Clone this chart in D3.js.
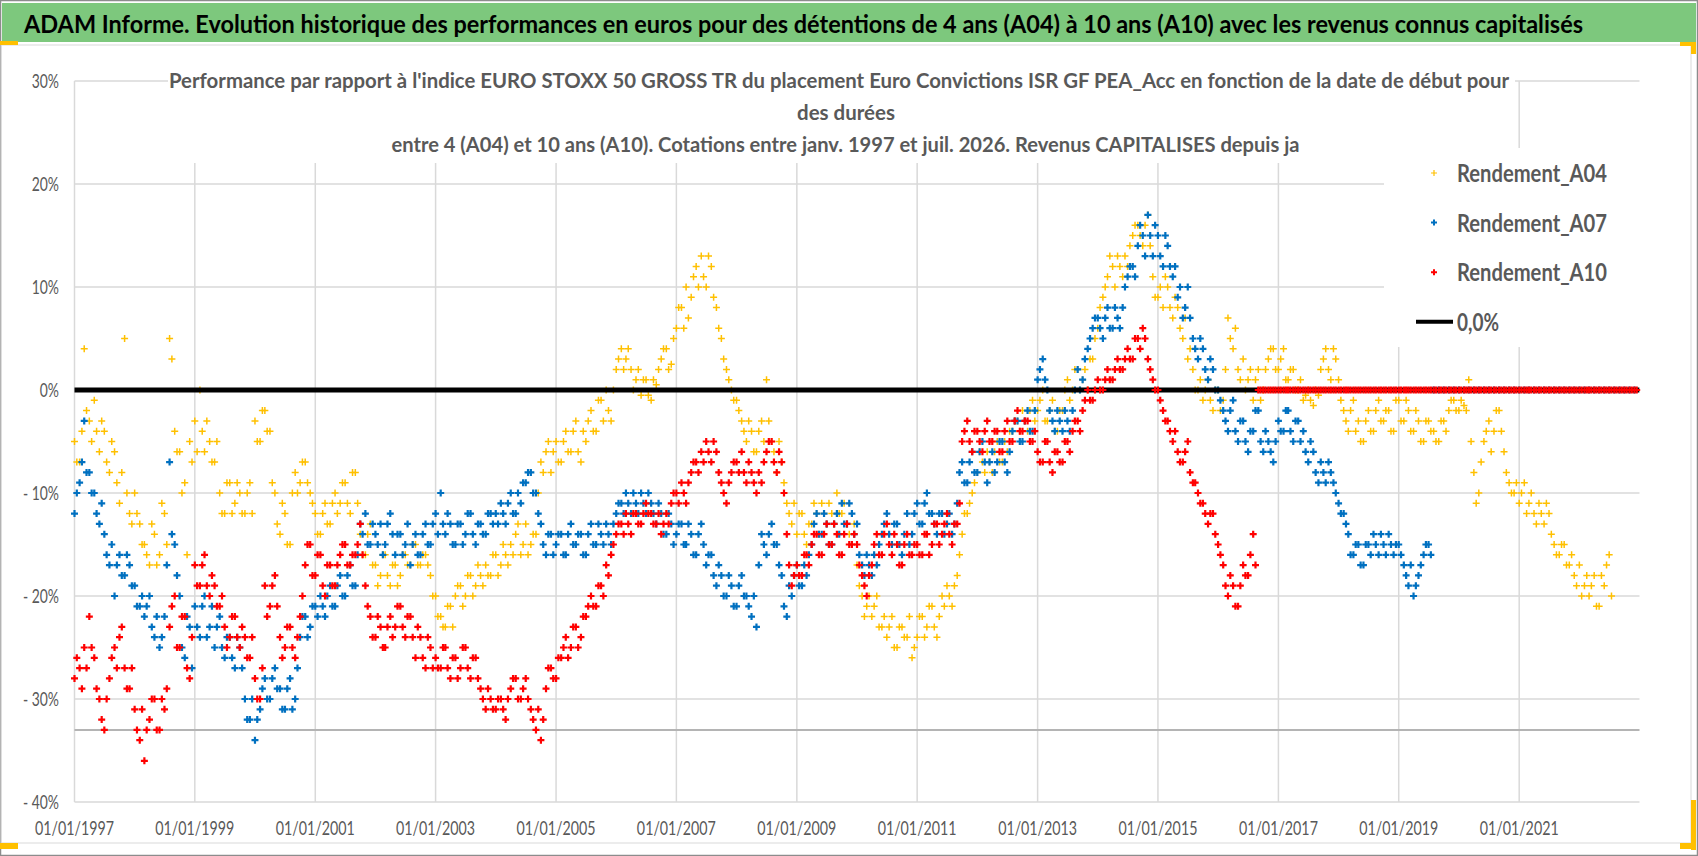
<!DOCTYPE html>
<html>
<head>
<meta charset="utf-8">
<script src="https://cdn.jsdelivr.net/npm/d3@7"></script>
<style>
  body { margin: 0; background: #ffffff; }
  text { font-family: Lato, "Open Sans", "DejaVu Sans", sans-serif; }
</style>
</head>
<body>
<svg id="chart" width="1698" height="856"></svg>
<script>
var titleText = "ADAM Informe. Evolution historique des performances en euros pour des détentions de 4 ans (A04) à 10 ans (A10) avec les revenus connus capitalisés";
var subtitleLines = [
    "Performance par rapport à l'indice EURO STOXX 50 GROSS TR  du placement Euro Convictions ISR GF PEA_Acc en fonction de la date de début pour",
    "des durées",
    "entre 4 (A04) et 10 ans (A10). Cotations entre janv. 1997 et juil. 2026. Revenus CAPITALISES depuis ja"
];
var seriesNames = ["Rendement_A04", "Rendement_A07", "Rendement_A10"];
var seriesColors = ["#ffc000", "#0070c0", "#ff0000"];
var zeroName = "0,0%";

// x axis: one reading on the 1st and one mid-month, starting here
var firstMonth = "01/01/1997";
var axisEnd = "01/01/2023";
var xTickLabels = ["01/01/1997", "01/01/1999", "01/01/2001", "01/01/2003", "01/01/2005", "01/01/2007", "01/01/2009",
    "01/01/2011", "01/01/2013", "01/01/2015", "01/01/2017", "01/01/2019", "01/01/2021"];
var yTickValues = [-40, -30, -20, -10, 0, 10, 20, 30];
var yTickLabels = ["- 40%", "- 30%", "- 20%", "- 10%", "0%", "10%", "20%", "30%"];
var axisCross = -33;
var zeroDates = ["01/01/1997", "31/12/2022"];
var zeroValues = [0, 0];

// performance (%), 1st of each month
var a04 = [
    -5, -7, 4, -3, -1, -6, -4, -8, -6, -11, 5, -12,
    -10, -13, -15, -17, -14, -16, -12, 5, -4, -6, -9, -5,
    -3, 0, -6, -5, -7, -10, -12, -9, -11, -10, -12, -9,
    -3, -5, -2, -4, -10, -14, -12, -15, -8, -9, -7, -10,
    -12, -14, -11, -13, -10, -11, -9, -12, -8, -14, -16, -13,
    -17, -18, -16, -19, -17, -18, -16, -17, -15, -17, -16, -18,
    -20, -22, -23, -21, -20, -19, -20, -18, -19, -18, -17, -18,
    -16, -17, -16, -15, -14, -16, -13, -15, -14, -7, -6, -8,
    -5, -7, -4, -6, -3, -7, -5, -2, -4, -1, 0, -3,
    2, 4, 3, 2, 1, -0.5, 1, -1, 0.5, 3, 4, 2.5,
    6, 8, 10, 9, 12, 13, 10, 12, 8, 5, 2, 0,
    -1, -3, -5, -4, -6, -3, 1, -5, -8, -7, -11, -13,
    -14, -12, -15, -13, -12, -11, -13, -12, -10, -12, -13, -15,
    -17, -20, -21, -22, -20, -23, -24, -22, -25, -23, -24, -26,
    -24, -22, -23, -21, -24, -20, -19, -21, -18, -14, -12, -10,
    -8, -7, -6, -8, -5, -7, -6, -4, -3, -2, -4, -1,
    -2, 0, -3, -1, -4, -2, 1, 0, 2, 1, 0, 3,
    6, 9, 11, 12, 13, 11, 12, 15, 16, 14, 17, 11,
    9, 8, 10, 7, 8, 5, 3, 2, 0, -1, 1, -2,
    0, -1, 7, 4, 2, 3, 1, -1, 2, 0, 3, 4,
    2, 4, 1, 2, 0, -1, 0, -1.5, -0.5, 3, 2, 4,
    1, -2, -4, -1, -3, -5, -2, -4, -1, -3, -2, -4,
    -1, -3, -2, -4, -3, -5, -3, -4, -5, -3, -2, -1,
    -2, -1.5, 1, -8, -10, -5, -3, -4, -2, -6, -9, -10,
    -11, -9, -11, -12, -11, -13, -12, -15, -16, -15, -17, -18,
    -17, -19, -20, -18, -21, -19, -16
];
// mid-month readings (other side of the cloud)
var a04Mid = [
    -7, -4, -2, -5, -4, -3, -7, -5, -9, -8, -10, -13,
    -12, -15, -16, -13, -17, -11, -15, 3, -6, -10, -16, -7,
    -6, -4, -3, -7, -5, -12, -9, -12, -9, -12, -10, -12,
    -5, -2, -4, -9, -13, -11, -15, -10, -10, -7, -9, -11,
    -14, -12, -13, -11, -12, -9, -11, -8, -11, -16, -14, -17,
    -19, -16, -18, -17, -19, -16, -17, -15, -17, -16, -17, -20,
    -22, -23, -21, -23, -19, -21, -18, -20, -17, -19, -18, -16,
    -18, -15, -17, -16, -13, -15, -16, -14, -10, -8, -5, -6,
    -7, -5, -6, -4, -6, -4, -3, -4, -1, -3, -2, 0,
    3, 2, 4, 0, 2, 1, -0.5, 1, 2, 4, 2, 5,
    8, 6, 7, 11, 10, 11, 13, 9, 6, 3, 1, -1,
    -2, -4, -3, -6, -4, -5, -3, -6, -5, -9, -12, -11,
    -12, -14, -13, -11, -14, -12, -11, -13, -12, -11, -14, -13,
    -19, -22, -20, -21, -23, -22, -23, -25, -23, -24, -22, -25,
    -22, -24, -21, -23, -22, -21, -20, -19, -16, -12, -11, -9,
    -6, -8, -7, -6, -7, -5, -4, -3, -4, -3, -2, -3,
    -1, -3, -2, -4, -2, 0, -1, 2, 0, 2, 3, 5,
    8, 10, 13, 10, 12, 13, 14, 16, 15, 16, 14, 9,
    10, 11, 8, 9, 6, 7, 4, 0, 1, 0, -1, 0,
    -2, 2, 5, 6, 1, 0, 2, 1, -1, 2, 4, 2,
    3, 1, 2, 0, 1, -0.5, -1, 0, 2, 4, 1, 3,
    -1, -3, -2, -4, -5, -3, -4, -2, -3, -2, -4, -1,
    -3, -1, -4, -2, -5, -3, -4, -5, -3, -4, -1, -2,
    -1, -2, -5, -11, -7, -4, -6, -2, -4, -8, -10, -9,
    -10, -12, -10, -13, -12, -11, -14, -16, -15, -17, -16, -19,
    -20, -18, -19, -21, -18, -17, -20
];
var a07 = [
    -12, -9, -3, -8, -10, -13, -14, -17, -20, -16, -18, -17,
    -19, -21, -22, -20, -24, -25, -22, -7, -15, -20, -26, -23,
    -21, -24, -20, -23, -25, -22, -26, -24, -27, -25, -30, -32,
    -34, -31, -28, -30, -27, -29, -31, -28, -30, -24, -22, -23,
    -21, -20, -22, -19, -21, -18, -20, -17, -19, -13, -12, -15,
    -14, -13, -15, -12, -16, -14, -15, -17, -14, -16, -13, -15,
    -12, -10, -14, -13, -15, -13, -14, -12, -15, -13, -14, -12,
    -12, -11, -13, -10, -12, -11, -9, -8, -10, -13, -16, -14,
    -15, -14, -16, -13, -15, -14, -16, -13, -15, -14, -13, -15,
    -12, -11, -10, -12, -11, -10, -12, -11, -13, -12, -14, -13,
    -14, -13, -15, -14, -16, -13, -17, -16, -19, -18, -20, -19,
    -21, -18, -20, -22, -23, -14, -16, -13, -15, -18, -22, -20,
    -17, -19, -18, -15, -12, -14, -13, -15, -12, -11, -13, -12,
    -13, -17, -16, -18, -17, -14, -12, -15, -13, -16, -12, -14,
    -11, -13, -10, -12, -14, -12, -13, -14, -11, -7, -9, -6,
    -8, -5, -9, -6, -7, -5, -8, -4, -3, -5, -2, -4,
    1, 3, 0, -3, -2, -4, -3, -2, 2, 1, 4, 6,
    7, 5, 8, 6, 7, 8, 11, 12, 14, 15, 17, 13,
    15, 12, 14, 11, 9, 7, 10, 5, 3, 4, 1, 2,
    0, -2, -4, -1, -5, -3, -6, -4, -2, -6, -5, -7,
    -3, -4, -2, -5, -3, -4, -7, -6, -9, -8, -7, -9,
    -11, -12, -14, -16, -15, -17, -15, -14, -16, -15, -14, -16,
    -15, -17, -19, -20, -18, -16, -15, 0, 0, 0, 0, 0,
    0, 0, 0, 0, 0, 0, 0, 0, 0, 0, 0, 0,
    0, 0, 0, 0, 0, 0, 0, 0, 0, 0, 0, 0,
    0, 0, 0, 0, 0, 0, 0, 0, 0, 0, 0, 0
];
var a07Mid = [
    -10, -7, -8, -10, -12, -11, -16, -15, -17, -18, -16, -19,
    -21, -20, -21, -23, -22, -24, -17, -14, -18, -25, -22, -27,
    -23, -21, -24, -21, -23, -25, -24, -26, -24, -27, -32, -30,
    -32, -29, -30, -28, -29, -31, -29, -31, -27, -22, -24, -21,
    -22, -21, -20, -21, -19, -20, -18, -19, -16, -14, -15, -13,
    -15, -16, -13, -14, -14, -16, -13, -15, -16, -14, -15, -13,
    -14, -13, -12, -15, -13, -15, -12, -14, -13, -14, -12, -13,
    -13, -12, -11, -12, -10, -9, -8, -10, -12, -15, -14, -16,
    -14, -16, -14, -15, -14, -16, -14, -15, -13, -15, -14, -13,
    -11, -12, -11, -10, -12, -11, -10, -12, -11, -14, -12, -15,
    -13, -15, -13, -16, -14, -15, -16, -18, -17, -20, -18, -21,
    -19, -20, -21, -20, -17, -15, -14, -15, -17, -21, -19, -18,
    -19, -17, -16, -13, -14, -12, -15, -13, -14, -13, -11, -14,
    -16, -18, -17, -16, -15, -13, -14, -13, -15, -14, -15, -12,
    -13, -11, -12, -13, -12, -14, -12, -13, -8, -9, -7, -8,
    -6, -7, -7, -8, -5, -7, -6, -3, -5, -3, -4, -2,
    2, 1, -2, -4, -3, -2, -4, 0, 0, 3, 5, 7,
    6, 7, 6, 8, 6, 10, 12, 11, 16, 13, 15, 16,
    13, 15, 12, 12, 10, 8, 7, 4, 5, 2, 3, 0,
    -1, -3, -2, -4, -3, -5, -4, -2, -5, -4, -6, -5,
    -4, -2, -4, -3, -5, -6, -5, -8, -7, -9, -8, -10,
    -12, -13, -16, -15, -17, -15, -16, -15, -14, -16, -15, -15,
    -16, -18, -17, -19, -17, -15, -16
];
var a10 = [
    -28, -27, -25, -22, -26, -30, -33, -28, -25, -24, -27, -29,
    -31, -34, -36, -32, -30, -33, -31, -23, -20, -25, -22, -28,
    -17, -19, -16, -20, -19, -21, -23, -24, -22, -25, -24, -26,
    -28, -30, -19, -21, -18, -24, -25, -23, -26, -22, -17, -15,
    -18, -16, -20, -17, -19, -16, -15, -17, -16, -13, -19, -22,
    -24, -23, -25, -22, -23, -21, -24, -22, -26, -24, -27, -25,
    -26, -27, -25, -28, -26, -27, -25, -28, -26, -29, -31, -30,
    -31, -30, -32, -29, -28, -30, -28, -31, -33, -34, -29, -27,
    -28, -26, -24, -25, -23, -24, -22, -20, -21, -19, -17, -16,
    -14, -13, -12, -14, -12, -13, -11, -12, -13, -14, -12, -11,
    -10, -9, -11, -8, -7, -6, -5, -7, -6, -9, -11, -8,
    -7, -6, -9, -8, -10, -9, -6, -5, -8, -7, -14, -19,
    -17, -18, -16, -15, -14, -16, -13, -15, -14, -16, -13, -15,
    -15, -18, -20, -17, -14, -16, -13, -16, -15, -17, -14, -16,
    -15, -16, -14, -15, -13, -14, -12, -15, -13, -5, -3, -6,
    -4, -6, -3, -5, -4, -6, -3, -5, -2, -4, -3, -5,
    -6, -7, -5, -8, -6, -7, -5, -4, -3, -2, 0, -1,
    1, 0, 2, 1, 3, 2, 4, 3, 5, 6, 3, 1,
    0, -2, -3, -5, -6, -7, -5, -9, -10, -11, -13, -12,
    -15, -17, -20, -19, -21, -17, -18, -14, 0, 0, 0, 0,
    0, 0, 0, 0, 0, 0, 0, 0, 0, 0, 0, 0,
    0, 0, 0, 0, 0, 0, 0, 0, 0, 0, 0, 0,
    0, 0, 0, 0, 0, 0, 0, 0, 0, 0, 0, 0,
    0, 0, 0, 0, 0, 0, 0, 0, 0, 0, 0, 0,
    0, 0, 0, 0, 0, 0, 0, 0, 0, 0, 0, 0,
    0, 0, 0, 0, 0, 0, 0, 0, 0, 0, 0, 0
];
var a10Mid = [
    -26, -29, -27, -25, -29, -32, -30, -26, -27, -23, -29, -27,
    -33, -31, -33, -30, -33, -30, -29, -21, -25, -22, -27, -24,
    -19, -17, -19, -18, -21, -20, -25, -22, -24, -23, -26, -24,
    -30, -27, -22, -19, -21, -26, -23, -25, -24, -20, -15, -18,
    -16, -19, -17, -19, -17, -15, -17, -16, -15, -16, -21, -24,
    -22, -25, -23, -24, -21, -23, -22, -24, -23, -26, -24, -27,
    -27, -25, -27, -26, -28, -25, -27, -26, -28, -30, -29, -31,
    -30, -31, -30, -28, -30, -29, -30, -32, -31, -32, -27, -28,
    -26, -25, -26, -23, -25, -22, -21, -21, -19, -20, -18, -15,
    -13, -14, -13, -12, -13, -12, -12, -13, -12, -13, -13, -10,
    -11, -10, -9, -7, -8, -7, -6, -5, -8, -10, -9, -7,
    -8, -8, -7, -9, -8, -7, -5, -7, -6, -10, -17, -18,
    -18, -16, -17, -14, -16, -14, -15, -13, -16, -14, -15, -14,
    -17, -19, -18, -15, -16, -14, -15, -14, -17, -15, -16, -15,
    -16, -14, -16, -13, -15, -13, -14, -13, -11, -4, -5, -4,
    -5, -4, -5, -4, -6, -4, -5, -3, -4, -3, -5, -4,
    -7, -5, -7, -6, -7, -5, -6, -3, -4, -1, -1, 0,
    0, 1, 1, 2, 2, 3, 3, 5, 4, 5, 2, 0,
    -1, -3, -4, -4, -7, -6, -8, -9, -11, -12, -12, -14,
    -16, -19, -18, -21, -19, -18, -16, -17, 0, 0, 0, 0,
    0, 0, 0, 0, 0, 0, 0, 0, 0, 0, 0, 0,
    0, 0, 0, 0, 0, 0, 0, 0, 0, 0, 0, 0,
    0, 0, 0, 0, 0, 0, 0, 0, 0, 0, 0, 0,
    0, 0, 0, 0, 0, 0, 0, 0, 0, 0, 0, 0,
    0, 0, 0, 0, 0, 0, 0, 0, 0, 0, 0, 0,
    0, 0, 0, 0, 0, 0, 0, 0, 0, 0, 0, 0
];

// squeeze a text group so that a sample string takes the wanted width
function fit_group(sel, sampleIndex, sampleWidth) {
    var nodes = sel.nodes();
    var k = sampleWidth / nodes[sampleIndex].getComputedTextLength();
    sel.each(function () {
        var w = this.getComputedTextLength() * k;
        d3.select(this).attr("textLength", w).attr("lengthAdjust", "spacingAndGlyphs");
    });
}

function draw_scatter_chart(svg_select) {
    var svg = d3.select(svg_select),
        W = +svg.attr("width"),
        H = +svg.attr("height"),
        plot = {left: 74.5, right: 1639.5, top: 81, bottom: 802};

    var parse = d3.timeParse("%d/%m/%Y");
    var start = parse(firstMonth);

    var x = d3.scaleTime()
        .domain([start, parse(axisEnd)])
        .range([plot.left, plot.right]);
    var y = d3.scaleLinear()
        .domain([d3.min(yTickValues), d3.max(yTickValues)])
        .range([plot.bottom, plot.top]);

    // frame, title band, chart area
    svg.append("rect").attr("x", 0.5).attr("y", 0.5).attr("width", W - 1).attr("height", H - 1)
        .attr("fill", "#ffffff").attr("stroke", "#8c8c8c").attr("stroke-width", 1.5);
    svg.append("rect").attr("x", 2).attr("y", 3).attr("width", W - 4).attr("height", 39)
        .attr("fill", "#7dc87d");
    svg.append("rect").attr("x", 1).attr("y", 45).attr("width", 1690).attr("height", 798)
        .attr("fill", "none").attr("stroke", "#d9d9d9").attr("stroke-width", 1);
    svg.append("text")
        .attr("x", 24).attr("y", 33)
        .attr("font-size", 24).attr("font-weight", "bold").attr("fill", "#000000")
        .attr("textLength", 1559).attr("lengthAdjust", "spacingAndGlyphs")
        .text(titleText);

    var g = svg.append("g");

    // gridlines
    g.append("g")
        .selectAll("line")
        .data(yTickValues)
        .enter().append("line")
        .attr("x1", plot.left).attr("x2", plot.right)
        .attr("y1", function (d) { return y(d); })
        .attr("y2", function (d) { return y(d); })
        .attr("stroke", "#d9d9d9").attr("stroke-width", 1.5);
    g.append("g")
        .selectAll("line")
        .data(xTickLabels)
        .enter().append("line")
        .attr("x1", function (d) { return x(parse(d)); })
        .attr("x2", function (d) { return x(parse(d)); })
        .attr("y1", plot.top).attr("y2", plot.bottom)
        .attr("stroke", "#d9d9d9").attr("stroke-width", 1.5);
    g.append("line")
        .attr("x1", plot.left).attr("x2", plot.right)
        .attr("y1", y(axisCross)).attr("y2", y(axisCross))
        .attr("stroke", "#b4b4b4").attr("stroke-width", 2);

    // axis labels
    var yLab = g.append("g")
        .attr("font-size", 18.5).attr("fill", "#595959").attr("text-anchor", "end")
        .selectAll("text")
        .data(yTickValues)
        .enter().append("text")
        .attr("x", 59)
        .attr("y", function (d) { return y(d); })
        .attr("dy", "0.36em")
        .text(function (d, i) { return yTickLabels[i]; });
    fit_group(yLab, 0, 36);
    var xLab = g.append("g")
        .attr("font-size", 18.5).attr("fill", "#595959").attr("text-anchor", "middle")
        .selectAll("text")
        .data(xTickLabels)
        .enter().append("text")
        .attr("x", function (d) { return x(parse(d)); })
        .attr("y", 835)
        .text(function (d) { return d; });
    fit_group(xLab, 0, 79);

    // subtitle box hides the gridlines behind it
    g.append("rect").attr("x", 168).attr("y", 50).attr("width", 1347).attr("height", 113).attr("fill", "#ffffff");
    var subX = [169, 797, 391.5], subW = [1340, 98, 908], subY = [88, 120, 152];
    g.append("g")
        .attr("font-size", 21).attr("font-weight", "bold").attr("fill", "#595959")
        .selectAll("text")
        .data(subtitleLines)
        .enter().append("text")
        .attr("x", function (d, i) { return subX[i]; })
        .attr("y", function (d, i) { return subY[i]; })
        .attr("textLength", function (d, i) { return subW[i]; })
        .attr("lengthAdjust", "spacingAndGlyphs")
        .text(function (d) { return d; });

    var cross = "M-3.5,0H3.5M0,-3.5V3.5";
    function points(values, dayOffset) {
        return values.map(function (v, i) {
            return {date: d3.timeDay.offset(d3.timeMonth.offset(start, i), dayOffset), value: v};
        });
    }
    function draw_series(values, midValues, color, width) {
        g.append("g")
            .selectAll("path")
            .data(points(values, 0).concat(points(midValues, 14)))
            .enter().append("path")
            .attr("d", cross)
            .attr("transform", function (d) {
                return "translate(" + x(d.date) + "," + y(d.value) + ")";
            })
            .attr("fill", "none")
            .attr("stroke", color)
            .attr("stroke-width", width);
    }

    draw_series(a04, a04Mid, seriesColors[0], 1.5);
    draw_series(a07, a07Mid, seriesColors[1], 2.2);

    g.append("path")
        .datum(zeroDates.map(function (d, i) { return {date: parse(d), value: zeroValues[i]}; }))
        .attr("fill", "none")
        .attr("stroke", "#000000")
        .attr("stroke-width", 5)
        .attr("d", d3.line()
            .x(function (d) { return x(d.date); })
            .y(function (d) { return y(d.value); }));

    draw_series(a10, a10Mid, seriesColors[2], 2.2);

    // legend
    var legend = svg.append("g");
    legend.append("rect").attr("x", 1384).attr("y", 148).attr("width", 304).attr("height", 199).attr("fill", "#ffffff");
    var rows = legend.selectAll("g.row")
        .data(seriesNames.concat([zeroName]))
        .enter().append("g")
        .attr("class", "row")
        .attr("transform", function (d, i) { return "translate(0," + (173 + i * 49.6) + ")"; });
    rows.filter(function (d, i) { return i < 3; })
        .append("path")
        .attr("d", "M-3,0H3M0,-3V3")
        .attr("transform", "translate(1434,0)")
        .attr("fill", "none")
        .attr("stroke", function (d, i) { return seriesColors[i]; })
        .attr("stroke-width", function (d, i) { return i === 0 ? 1.2 : 2; });
    rows.filter(function (d, i) { return i === 3; })
        .append("line")
        .attr("x1", 1416).attr("x2", 1453).attr("y1", 0).attr("y2", 0)
        .attr("stroke", "#000000").attr("stroke-width", 4);
    rows.append("text")
        .attr("x", 1457)
        .attr("y", 9)
        .attr("font-size", 24).attr("font-weight", "bold").attr("fill", "#595959")
        .attr("textLength", function (d, i) { return i < 3 ? 150 : 42; })
        .attr("lengthAdjust", "spacingAndGlyphs")
        .text(function (d) { return d; });

    // selection handles of the chart object
    var handles = [[0, 41, 18, 4], [1680, 42, 16, 4], [1691, 42, 5, 12], [1691, 800, 5, 50], [1680, 843, 16, 6], [0, 843, 18, 6]];
    svg.append("g").selectAll("rect").data(handles).enter().append("rect")
        .attr("x", function (d) { return d[0]; }).attr("y", function (d) { return d[1]; })
        .attr("width", function (d) { return d[2]; }).attr("height", function (d) { return d[3]; })
        .attr("fill", "#ffc000");
}

draw_scatter_chart("#chart");
</script>
</body>
</html>
